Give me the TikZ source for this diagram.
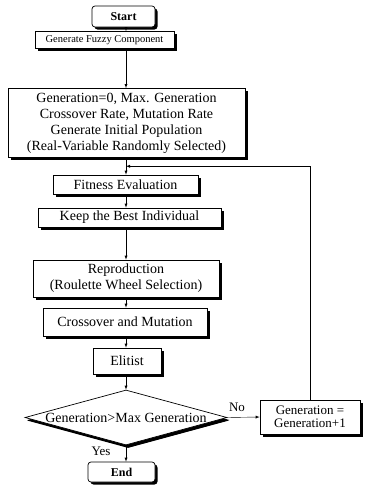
\documentclass[tikz,border=0pt]{standalone}
\usepackage{fontspec}
\setmainfont{Liberation Serif}
\usetikzlibrary{shapes.geometric,shadows,calc}

\tikzset{
  >=latex,
  blk/.style={draw, fill=white, line width=0.7pt, align=center, inner sep=0pt,
    font=\fontsize{14}{16}\selectfont,
    drop shadow={shadow xshift=2.5pt, shadow yshift=-2.5pt, fill=black, opacity=1}},
  term/.style={blk, rounded corners=3pt, font=\fontsize{12}{14}\selectfont\bfseries},
  test/.style={blk, diamond, aspect=3.67, inner xsep=-4pt, inner ysep=0pt,
    minimum width=202pt, minimum height=55pt,
    drop shadow={shadow xshift=2pt, shadow yshift=-3pt, fill=black, opacity=1}},
  lbl/.style={font=\fontsize{13}{15}\selectfont},
}

\begin{document}
\begin{tikzpicture}[x=1pt,y=-1pt]
  \useasboundingbox (0,0) rectangle (368,485);
  \coordinate (ax) at (126,0);

  \node [term, minimum width=63pt, minimum height=21pt] (start) at (123.5,16.5) {Start};
  \node [blk, minimum width=139pt, minimum height=17pt, font=\fontsize{10.5}{12}\selectfont]
    (fuzzy) at (104.5,40) {Generate Fuzzy Component};
  \node [blk, minimum width=237pt, minimum height=69pt] (init) at (126.5,123)
    {Generation=0, Max. Generation\\Crossover Rate, Mutation Rate\\Generate Initial Population\\(Real-Variable Randomly Selected)};
  \node [blk, minimum width=145pt, minimum height=19pt] (fit) at (125.5,184.5) {Fitness Evaluation};
  \node [blk, minimum width=183pt, minimum height=19pt] (keep) at (129.5,217.5) {Keep the Best Individual};
  \node [blk, minimum width=186pt, minimum height=37pt] (repro) at (126,278.5)
    {Reproduction\\(Roulette Wheel Selection)};
  \node [blk, minimum width=164pt, minimum height=28pt] (cross) at (125,322) {Crossover and Mutation};
  \node [blk, minimum width=68pt, minimum height=26pt] (elit) at (127,361) {Elitist};
  \node [test] (test) at (126,417.5) {Generation>Max Generation};
  \node [blk, minimum width=100pt, minimum height=34pt, font=\fontsize{13}{13}\selectfont]
    (gen) at (310,417) {Generation =\\Generation+1};
  \node [term, minimum width=67pt, minimum height=20pt] (end) at (121.5,472) {End};

  % main line
  \draw [->] (start.south -| ax) -- (fuzzy.north -| ax);
  \draw [->] (fuzzy.south -| ax) -- (init.north -| ax);
  \draw [->] (init.south -| ax) -- (fit.north -| ax);
  \draw [->] (fit.south -| ax) -- (keep.north -| ax);
  \draw [->] (keep.south -| ax) -- (repro.north -| ax);
  \draw [->] (repro.south -| ax) -- (cross.north -| ax);
  \draw [->] (cross.south -| ax) -- (elit.north -| ax);
  \draw [->] (elit.south -| ax) -- (test.north);
  \draw [->] (test.south) -- node [lbl, pos=0.35, left=12pt] {Yes} (test.south |- end.north);

  % loop back
  \draw [->] (test.east) -- node [lbl, pos=0.3, above=2pt] {No} (gen.west);
  \draw [->] (gen.north) |- ($(init.south -| ax)!0.5!(fit.north -| ax)$);
\end{tikzpicture}
\end{document}
